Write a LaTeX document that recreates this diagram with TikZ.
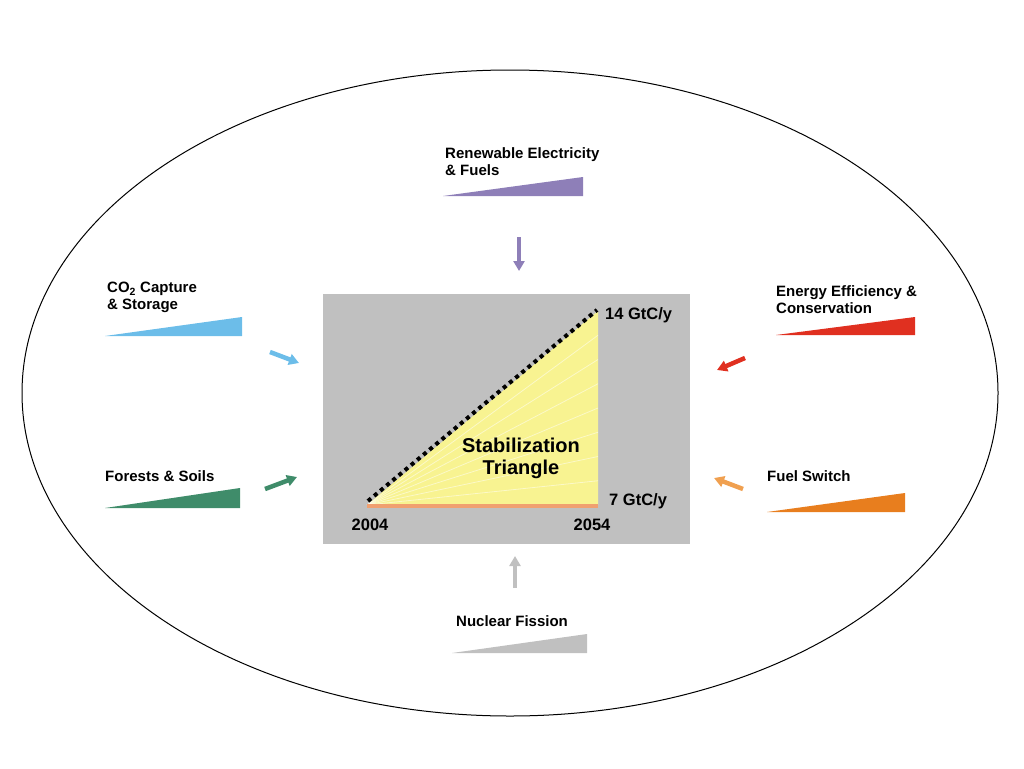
\documentclass[tikz,border=0pt]{standalone}
\usepackage{fontspec}
\setmainfont{Liberation Sans}
\usetikzlibrary{arrows.meta}
\definecolor{boxgray}{HTML}{C0C0C0}
\definecolor{triyellow}{HTML}{F8F391}
\definecolor{baseorange}{HTML}{F0A070}
\definecolor{renpurple}{HTML}{8E7FB8}
\definecolor{ccsblue}{HTML}{6CBDE9}
\definecolor{forgreen}{HTML}{3F8C6A}
\definecolor{effred}{HTML}{E03020}
\definecolor{fuelorange}{HTML}{E87E1E}
\definecolor{fuelarrow}{HTML}{F0A050}
\definecolor{nucgray}{HTML}{C0C0C0}
\begin{document}
\begin{tikzpicture}[x=1pt,y=-1pt,
  lbl/.style={font=\fontsize{15}{17}\selectfont\bfseries, inner sep=0pt, anchor=north west, align=left},
  numlbl/.style={font=\fontsize{16.5}{18}\selectfont\bfseries, inner sep=0pt},
  feed/.style={line width=4.5pt, -{Triangle[length=10pt,width=11pt]}},
]
\useasboundingbox (0,0) rectangle (1024,768);
% outer ellipse
\draw[line width=1pt] (510,393) ellipse [x radius=488, y radius=323];
% gray box
\fill[boxgray] (323,294) rectangle (690,544);
% triangle
\coordinate (t0) at (367,505);
\coordinate (t1) at (598,505);
\coordinate (t2) at (598,311);
\fill[triyellow] (t0) -- (t1) -- (t2) -- cycle;
\foreach \k in {1,...,7}{
  \draw[white, line width=0.8pt, opacity=0.5] (t0) -- (598,{311+\k*194/8});
}
\draw[baseorange, line width=3.5pt] (367,506) -- (598,506);
\draw[black, line width=4pt, dash pattern=on 4pt off 4pt] (368,501) -- (597,310);
% triangle labels
\node[numlbl, anchor=base west] (n14) at (605,319) {14 GtC/y};
\node[numlbl, anchor=base west] (n7) at (609,505) {7 GtC/y};
\node[numlbl, anchor=base] (y1) at (370,530) {2004};
\node[numlbl, anchor=base] (y2) at (592,530) {2054};
\node[font=\fontsize{20}{22}\selectfont\bfseries, align=center, inner sep=0pt, anchor=north] (st) at (521,438) {Stabilization\\Triangle};
% wedges
\fill[renpurple] (443,196) -- (583,196) -- (583,177) -- cycle;
\fill[ccsblue] (105,336) -- (242,336) -- (242,317) -- cycle;
\fill[forgreen] (105,508) -- (240,508) -- (240,488) -- cycle;
\fill[effred] (776,335) -- (915,335) -- (915,317) -- cycle;
\fill[fuelorange] (767,512) -- (905,512) -- (905,493) -- cycle;
\fill[nucgray] (452,653) -- (587,653) -- (587,634) -- cycle;
% wedge labels
\node[lbl] (ren) at (445,147) {Renewable Electricity\\\& Fuels};
\node[lbl] (ccs) at (107,282) {CO\textsubscript{2} Capture\\\& Storage};
\node[lbl] (for) at (105,470) {Forests \& Soils};
\node[lbl] (eff) at (776,285) {Energy Efficiency \&\\Conservation};
\node[lbl] (fuel) at (767,470) {Fuel Switch};
\node[lbl] (nuc) at (456,615) {Nuclear Fission};
% arrows
\coordinate (ra) at (519,237); \coordinate (rb) at (519,271);
\coordinate (ca) at (270,352); \coordinate (cb) at (299,363);
\coordinate (fa) at (265,489); \coordinate (fb) at (297,477);
\coordinate (ea) at (745,358); \coordinate (eb) at (717,370);
\coordinate (sa) at (743,489); \coordinate (sb) at (714,478);
\coordinate (na) at (515,588); \coordinate (nb) at (515,556);
\draw[feed, renpurple] (ra) -- (rb);
\draw[feed, ccsblue] (ca) -- (cb);
\draw[feed, forgreen] (fa) -- (fb);
\draw[feed, effred] (ea) -- (eb);
\draw[feed, fuelarrow] (sa) -- (sb);
\draw[feed, nucgray] (na) -- (nb);
\end{tikzpicture}
\end{document}
